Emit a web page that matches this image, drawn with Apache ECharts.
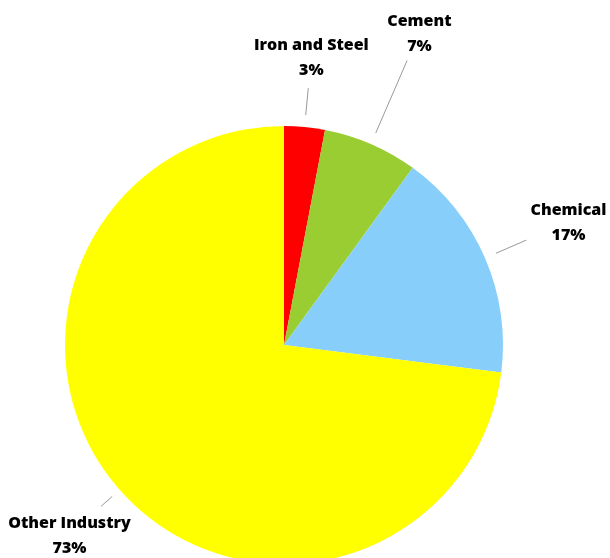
<!DOCTYPE html>
<html>
<head>
<meta charset="utf-8">
<script src="https://cdn.jsdelivr.net/npm/echarts@6/dist/echarts.min.js"></script>
<style>html,body{margin:0;padding:0;background:#fff;}#chart{width:610px;height:558px;}</style>
</head>
<body>
<div id="chart"></div>
<script>
const categories = ['Iron and Steel', 'Cement', 'Chemical', 'Other Industry'];
const values = [3, 7, 17, 73];
const colors = ['#FF0000', '#9ACD32', '#87CEFA', '#FFFF00'];

const CX = 284, CY = 345, R = 219;
const labelRadius = [290, 341, 310, 286];
const lineStartRadius = [231, 231, 231, 229];
const lineEndRadius = [258, 310, 264, 244];
const total = values.reduce((a, b) => a + b, 0);

function polar(r, ang) { return [CX + r * Math.sin(ang), CY - r * Math.cos(ang)]; }

const chart = echarts.init(document.getElementById('chart'), null, {renderer: 'canvas'});
chart.setOption({
  animation: false,
  series: [{
    type: 'pie',
    center: [CX, CY],
    radius: R,
    startAngle: 90,
    clockwise: true,
    data: categories.map((c, i) => ({name: c, value: values[i], itemStyle: {color: colors[i]}})),
    label: {
      show: true,
      formatter: '{b}\n{c}%',
      fontFamily: 'Open Sans',
      fontWeight: 800,
      fontSize: 16,
      lineHeight: 25,
      color: '#000',
      align: 'center',
      overflow: 'none',
      edgeDistance: 0
    },
    labelLine: {show: true, length: 20, length2: 0, lineStyle: {color: '#999', width: 1}},
    labelLayout: function (p) {
      const i = p.dataIndex;
      let before = 0;
      for (let k = 0; k < i; k++) before += values[k];
      const ang = (before + values[i] / 2) / total * Math.PI * 2;
      const pos = polar(labelRadius[i], ang);
      const a = polar(lineStartRadius[i], ang), b = polar(lineEndRadius[i], ang);
      return {x: pos[0], y: pos[1] + 1.5, align: 'center', verticalAlign: 'middle', labelLinePoints: [a, b, b]};
    }
  }]
});
</script>
</body>
</html>
